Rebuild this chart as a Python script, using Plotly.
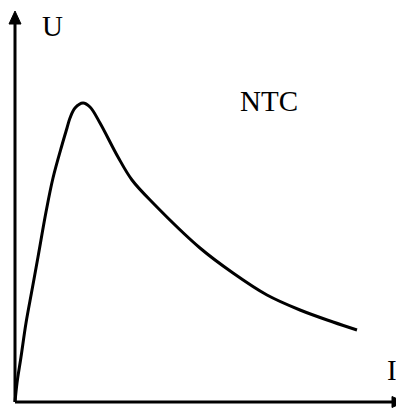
import plotly.graph_objects as go

# Curve values (I, U) in arbitrary units, origin at axis crossing
I_vals = [0, 2, 6, 11, 17, 23, 31, 38, 47, 52, 55, 60, 68, 75, 85, 103, 117, 138, 185, 218, 252, 285, 318, 342]
U_vals = [0, 19, 45, 79, 112, 145, 190, 224, 257, 274, 284, 294, 299, 295, 279, 245, 222, 199, 154, 129, 107, 92, 80, 72]

x_label = "I"
y_label = "U"
curve_label = "NTC"

FONT = "Liberation Serif, Times New Roman, serif"

fig = go.Figure()
fig.add_trace(go.Scatter(
    x=I_vals, y=U_vals, mode="lines",
    line=dict(color="black", width=3, shape="spline", smoothing=1.0),
    hoverinfo="skip", showlegend=False,
))

# axes with arrowheads
shapes = [
    dict(type="line", xref="x", yref="y", x0=0, y0=0, x1=0, y1=380,
         line=dict(color="black", width=3)),
    dict(type="path", xref="x", yref="y", path="M -6,378 L 6,378 L 0,391 Z",
         fillcolor="black", line=dict(color="black", width=1)),
    dict(type="line", xref="x", yref="y", x0=0, y0=0, x1=378, y1=0,
         line=dict(color="black", width=3)),
    dict(type="path", xref="x", yref="y", path="M 377,-5.5 L 377,5.5 L 389,0 Z",
         fillcolor="black", line=dict(color="black", width=1)),
]

annotations = [
    dict(x=37, y=376, xref="x", yref="y", text=y_label, showarrow=False,
         font=dict(family=FONT, size=29, color="black")),
    dict(x=384, y=32, xref="x", yref="y", xanchor="right", text=x_label,
         showarrow=False, font=dict(family=FONT, size=29, color="black")),
    dict(x=254, y=301, xref="x", yref="y", text=curve_label, showarrow=False,
         font=dict(family=FONT, size=29, color="black")),
]

# page body has an 8px margin, so the figure is 8px smaller than the window
fig.update_layout(
    width=396, height=402,
    margin=dict(l=0, r=0, t=0, b=0),
    paper_bgcolor="white", plot_bgcolor="white",
    xaxis=dict(range=[-7, 389], visible=False, fixedrange=True),
    yaxis=dict(range=[-8, 394], visible=False, fixedrange=True),
    shapes=shapes, annotations=annotations,
)

fig.write_html("out.html")
